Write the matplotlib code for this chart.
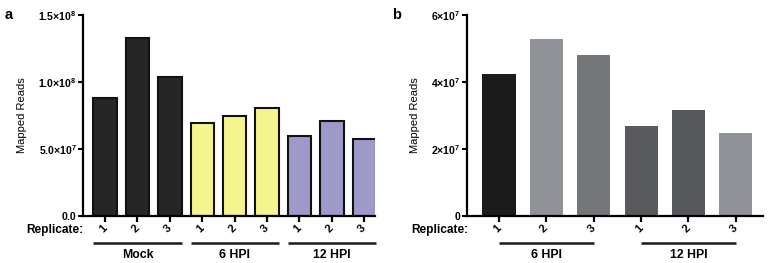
import matplotlib
matplotlib.use('Agg')
import matplotlib.pyplot as plt
import matplotlib.transforms as mtransforms

plt.rcParams['font.family'] = ['Liberation Sans', 'DejaVu Sans']
plt.rcParams['font.weight'] = 'bold'
plt.rcParams['mathtext.default'] = 'regular'

# panel a data
a_groups = ['Mock', '6 HPI', '12 HPI']
a_reps = ['1', '2', '3']
a_values = [0.878e8, 1.33e8, 1.037e8,
            0.692e8, 0.743e8, 0.803e8,
            0.598e8, 0.711e8, 0.575e8]
a_colors = ['#262626'] * 3 + ['#f5f590'] * 3 + ['#9d99cb'] * 3
a_yticks = [0, 5e7, 1e8, 1.5e8]
a_yticklabels = ['0.0', '5.0×10$^{7}$', '1.0×10$^{8}$', '1.5×10$^{8}$']

# panel b data
b_groups = ['6 HPI', '12 HPI']
b_reps = ['1', '2', '3']
b_values = [4.24e7, 5.27e7, 4.81e7, 2.69e7, 3.15e7, 2.49e7]
b_colors = ['#1b1b1b', '#8f9297', '#74777a', '#595a5d', '#57585b', '#8f9297']
b_yticks = [0, 2e7, 4e7, 6e7]
b_yticklabels = ['0', '2×10$^{7}$', '4×10$^{7}$', '6×10$^{7}$']

fig = plt.figure(figsize=(7.69, 2.63), dpi=100)
ax_a = fig.add_axes([0.108, 0.179, 0.380, 0.764])
ax_b = fig.add_axes([0.607, 0.179, 0.385, 0.764])


def style_axis(ax, yticks, yticklabels, ymax):
    for s in ['top', 'right']:
        ax.spines[s].set_visible(False)
    for s in ['left', 'bottom']:
        ax.spines[s].set_linewidth(1.6)
    ax.set_ylim(0, ymax)
    ax.set_yticks(yticks)
    ax.set_yticklabels(yticklabels, fontsize=7.6)
    ax.tick_params(axis='y', length=3.5, width=1.5, pad=1)
    ax.tick_params(axis='x', length=4.5, width=1.6, pad=3, labelsize=8)
    ax.set_ylabel('Mapped Reads', fontsize=8, labelpad=8)
    for lab in ax.get_xticklabels():
        lab.set_rotation(45)
        lab.set_rotation_mode('anchor')


def group_bar(ax, x0, x1, label):
    trans = mtransforms.blended_transform_factory(ax.transData, ax.transAxes)
    ax.plot([x0, x1], [-0.133, -0.133], color='#1a1a1a', lw=1.8,
            transform=trans, clip_on=False, solid_capstyle='butt')
    ax.text((x0 + x1) / 2, -0.165, label, transform=trans, ha='center',
            va='top', fontsize=8.8, fontweight='bold')


# panel a
xa = list(range(len(a_values)))
ax_a.bar(xa, a_values, width=0.72, color=a_colors, edgecolor='#111111',
         linewidth=1.5)
ax_a.set_xlim(-0.68, 8.34)
ax_a.set_xticks(xa)
ax_a.set_xticklabels(a_reps * 3)
style_axis(ax_a, a_yticks, a_yticklabels, 1.5e8)
for lab in ax_a.get_xticklabels():
    lab.set_ha('right')
    lab.set_va('center')
for i, g in enumerate(a_groups):
    group_bar(ax_a, 3 * i - 0.36, 3 * i + 2.36, g)
ax_a.text(0.0, -0.07, 'Replicate:', transform=ax_a.transAxes, ha='right',
          va='center', fontsize=8.6, fontweight='bold')
fig.text(0.006, 0.97, 'a', fontsize=10.5, fontweight='bold', va='top')

# panel b
xb = list(range(len(b_values)))
ax_b.bar(xb, b_values, width=0.70, color=b_colors, linewidth=0)
ax_b.set_xlim(-0.68, 5.57)
ax_b.set_xticks(xb)
ax_b.set_xticklabels(b_reps * 2)
style_axis(ax_b, b_yticks, b_yticklabels, 6e7)
for lab in ax_b.get_xticklabels():
    lab.set_ha('right')
    lab.set_va('center')
for i, g in enumerate(b_groups):
    group_bar(ax_b, 3 * i, 3 * i + 2, g)
ax_b.text(0.005, -0.07, 'Replicate:', transform=ax_b.transAxes, ha='right',
          va='center', fontsize=8.6, fontweight='bold')
fig.text(0.510, 0.97, 'b', fontsize=10.5, fontweight='bold', va='top')

fig.savefig('out.png', dpi=100)
